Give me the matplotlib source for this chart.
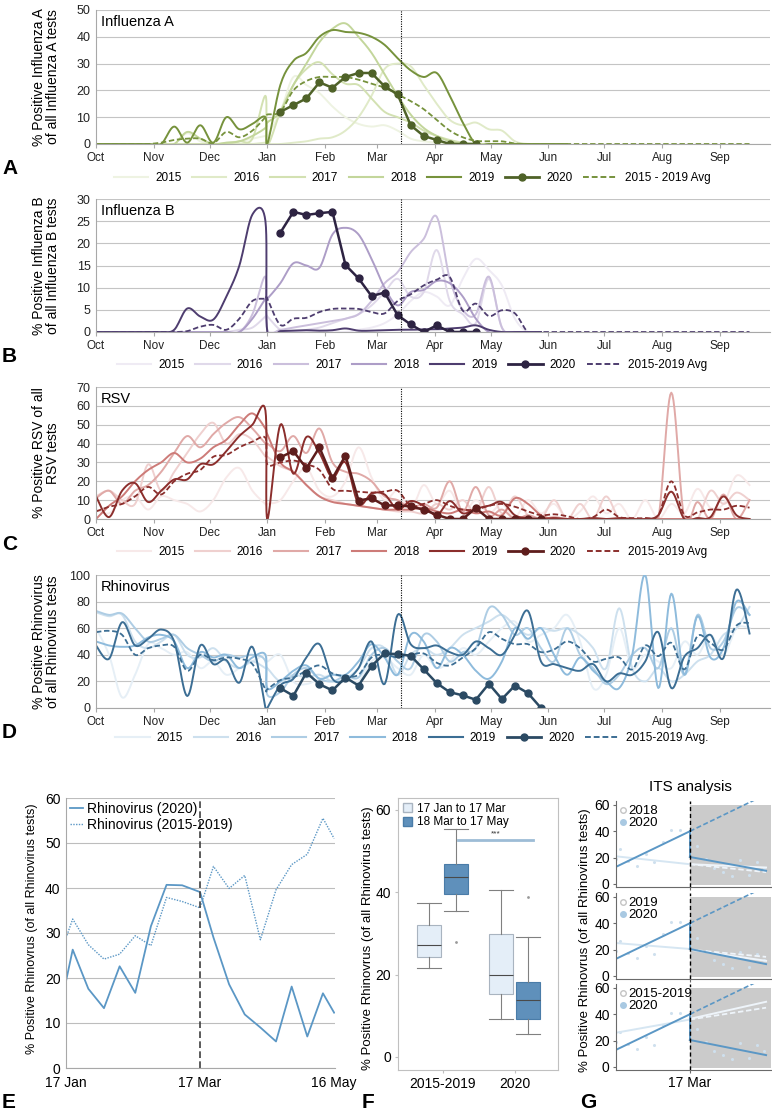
import numpy as np
import matplotlib
matplotlib.use('Agg')
import matplotlib.pyplot as plt
from matplotlib.lines import Line2D
from matplotlib.patches import Patch, Rectangle

plt.rcParams['font.family'] = ['Liberation Sans', 'DejaVu Sans']
nan = np.nan

# weekly sample days counted from 1 Oct (Dec 31 and Jan 1 both present: year break)
days = list(range(0, 92, 7)) + list(range(92, 352, 7))
month_days = [0, 31, 61, 92, 123, 151, 182, 212, 243, 273, 304, 335]
month_names = ['Oct', 'Nov', 'Dec', 'Jan', 'Feb', 'Mar', 'Apr', 'May', 'Jun', 'Jul', 'Aug', 'Sep']
years = ['2015', '2016', '2017', '2018', '2019']

# ---- Influenza A
fa_2015 = [0,0,0,0,0,0,0, 4,1,0,0.5,1,2,3, 3,12,25,22,19,14,10, 7.5,6.5,7,5,2,1,0.5, 0,0,0,0,0,0,0,0,0,0] + [nan]*14
fa_2016 = [0]*13 + [0.5,0,0,0.5,1,2,2.5,5,10,18,28,30,29,22,15,9,7,8,5.5,5,1, 0,0,0,0] + [nan]*14
fa_2017 = [0]*11 + [1,2,18,0,12,22,28,30.5,26,22.5,22,17,12,10,8,5,3,1.5,0.5] + [0]*8 + [nan]*14
fa_2018 = [0]*7 + [4.5,2,0,0.5,1,3,6,8,12,22,30,38,43,45,40,34,26,18,11,6,3,1] + [0]*9 + [nan]*14
fa_2019 = [0]*6 + [6.5,0.5,7,0.5,10,5.5,7.5,10,0,22,31,34,40,42.5,41.8,41.5,40,37,32,27.5,25,26.5,18,8,0] + [0]*7 + [nan]*14
fa_avg = [0]*5 + [0.5,1.5,2,2,0.3,4.5,2.5,5,10,11,12,20,23.5,25,25,25,24,22.5,21,18.5,16,13,9,5,2.5,1.2,1,1,0.2] + [0]*18
fa_2020 = [12,14.5,17,23,21,25,26.5,26.5,21.5,18.5,7,3,1.5,0,0,0]

# ---- Influenza B
fb_2015 = [0]*21 + [0.5,1,2,4,7,9,8,6,12,16.5,14,10.5,3,0,0] + [nan]*16
fb_2016 = [0]*11 + [0.5,1,3.5,3.5,0.5,0,0.5,1,2,3,4,6,9,12,8,9,18.5,7,4,2,12,1,0,0,0] + [nan]*16
fb_2017 = [0]*12 + [4,12.5,0.5,0.5,1,1.5,2,2.5,3,4,7,11,13.5,18,21,26,12,5,4,12.5,1,0,0,0] + [nan]*16
fb_2018 = [0]*12 + [3,7.5,7.5,11,15.5,15,14.5,22,23.5,22,16.5,10,6,9,9.5,11.5,11,8,3,0,0,0,0,0] + [nan]*16
fb_2019 = [0]*6 + [0.5,5.3,3.5,2.8,8,15,26.5,25,0,0.2,0.3,0.4,0.3,0.4,0.8,0.3,0.3,0.4,0.5,0.5,0.6,0.6,0.8,1,1.5,0.5,0,0,0,0] + [nan]*16
fb_avg = [0]*7 + [0.2,1.2,1.6,0.5,3,7,7.5,7.5,1.6,3,3.2,4.5,5.2,5.3,5.2,4.5,4.2,7,8.5,10.5,11.8,12.4,4.8,6.4,3.6,4.9,4.2,0] + [0]*17
fb_2020 = [22.4,27.1,26.4,26.8,27.1,15.1,12.1,8.1,8.9,3.8,1.7,0,1.5,0,0,0]

# ---- RSV
rsv_2015 = [5,3,10,12,5,12,10,8,4,10,22,27,15,8, 8,10,20,27,15,12,20,38,22,10, 15,5,18,8,15,3,10,3,8,1,
            10,3,8,0,4,12,3,8,0,10, 0,8,3,16,6,8,23,18]
rsv_2016 = [12,15,10,8,29,15,25,35,45,51,40,45,42,33, 33,28,25,18,12,10,8,7,6,5, 4,4,3,8,5,10,4,17,3,12,
            2,0,10,0,8,0,12,0,0,0, 0,0,0,0,15,8,14,10]
rsv_2017 = [11,15,8,15,18,25,35,44,38,45,51,54,48,40, 40,36,44,35,48,30,25,24,20,12, 10,6,8,6,20,4,17,2,5,0,
            2,0,1,0,0,0,0,0,0,0, 0,67,0,9,0,13,0,10]
rsv_2018 = [0,7,12,20,26,30,35,30,32,38,42,50,56,48, 45,30,25,18,12,9,8,7,6,5, 5,5,6,4,3,5,3,4,2,11,
            8,2,0,0,0,0,0,0,0,0, 0,0,0,0,0,0,0,0]
rsv_2019 = [12,1,15,19,9,15,21,21,29,29,36,44,50,57.5, 0,50,24,43.5,35,22,30,8,13.5,13, 5,9.5,7,2,9.5,3,5.5,7,9,2,
            0.5,0,0.5,0,0,0.5,0,0.5,0,0, 2,14.5,0,0.5,1,12,2,0]
rsv_avg = [4,6.5,8,12,17,13,20,24,26,33,34,38,41,43, 29,30,31,29,26,16,15,14.5,14,14.5, 15,7,8,10,7,5,5,7,8,6.5,
           4,2,2.5,1.5,0,1,5,1,0.5,0.5, 2,20,2,3.5,5,5,7,6]
rsv_2020 = [32.7,36,26.9,38,21.6,33.6,9.8,11,7.2,7.2,6.7,4.9,2.3,0,0,5.8,0,0,0,0,0]

# ---- Rhinovirus
rv_2015 = [60,40,8,25,48,45,40,42,30,35,25,30,35,40, 35,40,20,18,22,25,22,20,35,38, 30,25,40,30,35,45,40,50,60,65,
           50,55,60,70,50,15,25,60,30,40, 35,30,50,40,55,40,60,60]
rv_2016 = [72,69,70,50,45,50,55,40,38,45,35,30,35,30, 30,20,25,23,25,20,22,30,45,45, 25,40,45,40,45,55,60,65,70,62,
           55,60,58,60,55,45,30,75,30,20, 30,20,25,35,40,55,60,76]
rv_2017 = [73,70,71,60,50,52,55,45,40,35,40,38,40,35, 10,12,25,30,22,20,24,23,40,45, 35,30,55,50,35,42,45,75,70,55,
           60,45,35,60,40,30,18,25,40,45, 30,60,25,70,45,50,75,70]
rv_2018 = [50,47,46,47,53,55,50,30,42,38,40,30,38,40, 15,20,28,32,22,25,25,35,48,38, 25,55,50,30,45,40,28,22,35,60,
           52,60,40,25,38,28,20,15,40,100, 15,86,25,69,38,45,80,70]
rv_2019 = [47,37,64.5,47,52,59,50,9,47,33,36,19,46,0, 0,17,22,38,48,22,21,30,50,18, 70,48,45,47,42,40,50,45,40,55,
           73,35,33,30,28,33,20,26,25,35, 57,15,38.6,45,55,37.6,89,56]
rv_avg = [57,58,55,40,45,47,46,28,40,36,38,37,33,14, 14,21,23,28,32,26,24,25,38,40, 38,40,41,34,32,38,45,57,52,48,
          48,42,44,50,45,35,37,38,29,47, 39,49,29,54,49,44,62,64]
rv_2020 = [14.9,9.2,26.6,17.9,13.2,22.9,16.9,31.6,41,40.5,39.3,29.1,18.7,11.9,9.5,6.2,18.2,6.7,16.9,11.2,0]

# ---- panel E (days from 17 Jan)
e_days = [0,3,10,17,24,31,38,45,52,60,66,73,80,87,94,101,108,115,120]
e_2020 = [19.3,26.3,17.6,13.3,22.6,16.7,31.5,40.7,40.6,39.1,29,18.6,11.9,9.0,5.9,18.1,7.0,16.6,12.3]
e_1519 = [28.9,33.1,27.4,24.2,25.3,29.4,27.2,37.9,37.0,35.6,44.8,39.9,42.8,28.5,39.6,45.2,47.5,55.5,51]

# ---- panel F box statistics
f_groups = ['2015-2019', '2020']
f_med = [27.1, 43.6, 19.9, 13.9]
f_q1 = [24.2, 39.5, 15.2, 9.2]
f_q3 = [32.0, 46.8, 29.8, 18.2]
f_lo = [21.7, 35.4, 9.1, 5.5]
f_hi = [37.5, 55.3, 40.5, 29.0]
f_fliers = [[], [28], [], [38.9]]

# ---- panel G (ITS fits: start / end values)
its_labels = ['2018', '2019', '2015-2019']
its_cmp_pre = [(21, 15), (25, 20.5), (26, 36)]
its_cmp_post = [(15, 12.5), (20, 11.5), (36.5, 49.5)]
its_cmp_cf = [(15, 9), (20, 14.5), (36, 45)]
its_pre = (13, 40)
its_post = [(20.5, 10), (20.5, 9), (20.5, 9)]
its_cf = (40, 68)
its_x = (0, 60, 122)

W, H = 772, 1119
fig = plt.figure(figsize=(W / 100, H / 100), dpi=100)


def rect(l, t, r, b):
    return [l / W, 1 - b / H, (r - l) / W, (b - t) / H]


def smooth(x, y, n=12):
    # Excel-like smoothed line (Catmull-Rom through the points)
    x = np.asarray(x, float)
    y = np.asarray(y, float)
    ok = ~np.isnan(y)
    x, y = x[ok], y[ok]
    px = np.concatenate([[x[0]], x, [x[-1]]])
    py = np.concatenate([[y[0]], y, [y[-1]]])
    t = np.linspace(0, 1, n, endpoint=False)[:, None]

    def cr(p):
        p0, p1, p2, p3 = p[:-3], p[1:-2], p[2:-1], p[3:]
        return 0.5 * (2 * p1 + (p2 - p0) * t + (2 * p0 - 5 * p1 + 4 * p2 - p3) * t ** 2
                      + (3 * p1 - p0 - 3 * p2 + p3) * t ** 3)

    return np.append(cr(px).T.ravel(), x[-1]), np.append(cr(py).T.ravel(), y[-1])


def virus_panel(top, bottom, ymax, ystep, series, colors, avg, avg_lab, v2020, c2020,
                title, ylabel, leg_y, letter, letter_y):
    ax = fig.add_axes(rect(96, top, 770, bottom))
    ax.set_xlim(0, 362)
    ax.set_ylim(0, ymax)
    ax.set_yticks(np.arange(0, ymax + 1, ystep))
    ax.set_xticks(month_days)
    ax.set_xticklabels(month_names)
    ax.grid(axis='y', color='#c4c4c4', lw=0.8)
    ax.set_axisbelow(True)
    for s in ['top', 'right']:
        ax.spines[s].set_visible(False)
    for s in ['left', 'bottom']:
        ax.spines[s].set_color('#a8a8a8')
        ax.spines[s].set_linewidth(0.8)
    ax.tick_params(axis='y', length=0, labelsize=9, pad=4, labelcolor='#222222')
    ax.tick_params(axis='x', length=3, color='#a8a8a8', labelsize=8.5, pad=3, labelcolor='#222222')
    handles = []
    for s, c in zip(series, colors[:5]):
        ax.plot(*smooth(days, s), color=c, lw=1.4)
        handles.append(Line2D([], [], color=c, lw=1.5))
    ax.plot(*smooth(days, avg), color=colors[4], lw=1.3, ls=(0, (3, 1.5)))
    ax.plot(days[15:15 + len(v2020)], v2020, '-o', color=c2020, lw=1.8, ms=5)
    handles.append(Line2D([], [], color=c2020, lw=2, marker='o', ms=5))
    handles.append(Line2D([], [], color=colors[4], lw=1.4, ls=(0, (3, 1.5))))
    ax.axvline(164, color='k', ls=(0, (1, 1.2)), lw=0.8)
    ax.text(0.007, 0.91, title, transform=ax.transAxes, fontsize=10.5, va='center')
    fig.text(46 / W, 1 - (top + bottom) / 2 / H, ylabel, rotation=90, fontsize=10,
             ha='center', va='center', linespacing=1.0)
    fig.legend(handles, years + ['2020', avg_lab], loc='center', bbox_to_anchor=(412 / W, 1 - leg_y / H),
               ncol=7, frameon=False, fontsize=8.5, handlelength=2.9, handletextpad=0.6,
               columnspacing=0.9, borderpad=0)
    fig.text(2 / W, 1 - letter_y / H, letter, fontsize=15, fontweight='bold', va='center')
    return ax


virus_panel(10, 144, 50, 10, [fa_2015, fa_2016, fa_2017, fa_2018, fa_2019],
            ['#eef3e2', '#e0eac8', '#d3e1b2', '#c3d69b', '#76923c'], fa_avg, '2015 - 2019 Avg',
            fa_2020, '#4f6228', 'Influenza A', '% Positive Influenza A\nof all Influenza A tests', 178, 'A', 168)
virus_panel(199, 332, 30, 5, [fb_2015, fb_2016, fb_2017, fb_2018, fb_2019],
            ['#efebf4', '#e0d9ea', '#cbbfdc', '#ad9dc7', '#4e3d6f'], fb_avg, '2015-2019 Avg',
            fb_2020, '#2d2342', 'Influenza B', '% Positive Influenza B\nof all Influenza B tests', 365, 'B', 357)
virus_panel(387, 519, 70, 10, [rsv_2015, rsv_2016, rsv_2017, rsv_2018, rsv_2019],
            ['#f7e9e9', '#efd0cf', '#e0a9a7', '#cd7b78', '#8b2e2c'], rsv_avg, '2015-2019 Avg',
            rsv_2020, '#5e1d1c', 'RSV', '% Positive RSV of all\nRSV tests', 552, 'C', 545)
virus_panel(575, 708, 100, 20, [rv_2015, rv_2016, rv_2017, rv_2018, rv_2019],
            ['#e6eff6', '#cde0ee', '#aecde4', '#8ebbdc', '#3c6e94'], rv_avg, '2015-2019 Avg.',
            rv_2020, '#2b4a63', 'Rhinovirus', '% Positive Rhinovirus\nof all Rhinovirus tests', 738, 'D', 732)

blue = '#5b97c5'
ylab_rv = '% Positive Rhinovrus (of all Rhinovirus tests)'

# ---- E
ax = fig.add_axes(rect(66, 798, 335, 1068))
ax.set_xlim(0, 120.4)
ax.set_ylim(0, 60)
ax.set_yticks(range(0, 61, 10))
ax.set_xticks([0, 60, 120])
ax.set_xticklabels(['17 Jan', '17 Mar', '16 May'])
ax.grid(axis='y', color='#bdbdbd', lw=0.8)
ax.set_axisbelow(True)
for s in ['top', 'right']:
    ax.spines[s].set_visible(False)
for s in ['left', 'bottom']:
    ax.spines[s].set_color('#a8a8a8')
ax.tick_params(axis='y', length=0, labelsize=10, pad=4)
ax.tick_params(axis='x', length=0, labelsize=10, pad=6)
ax.plot(e_days, e_2020, color=blue, lw=1.3, label='Rhinovirus (2020)')
ax.plot(e_days, e_1519, color=blue, lw=1.0, ls=(0, (1, 1)), label='Rhinovirus (2015-2019)')
ax.axvline(60, color='#404040', ls=(0, (4, 2)), lw=1.2)
ax.legend(loc='upper left', frameon=False, fontsize=10, handlelength=0.9, handletextpad=0.3,
          labelspacing=0.1, borderaxespad=0.1, borderpad=0.2)
fig.text(32 / W, 1 - 929 / H, ylab_rv, rotation=90, fontsize=9, ha='center', va='center')
fig.text(2 / W, 1 - 1103 / H, 'E', fontsize=15, fontweight='bold', va='center')

# ---- F
ax = fig.add_axes(rect(398, 798, 558, 1070))
stats = []
for i in range(4):
    stats.append(dict(med=f_med[i], q1=f_q1[i], q3=f_q3[i], whislo=f_lo[i], whishi=f_hi[i],
                      fliers=f_fliers[i]))
bp = ax.bxp(stats, positions=[0.81, 1.19, 1.81, 2.19], widths=0.34, capwidths=0.34, patch_artist=True,
            flierprops=dict(marker='.', ms=2, color='#888888', mec='#999999'),
            whiskerprops=dict(color='#808080', lw=0.8), capprops=dict(color='#808080', lw=0.8),
            medianprops=dict(color='#4a4a4a', lw=0.8))
for i, b in enumerate(bp['boxes']):
    if i % 2 == 0:
        b.set(facecolor='#e4eef8', edgecolor='#a9b4c0', lw=0.8)
    else:
        b.set(facecolor='#5f90bb', edgecolor='#4a7ca8', lw=0.8)
ax.set_xlim(0.382, 2.604)
ax.set_ylim(-3.2, 62.9)
ax.set_xticks([1, 2])
ax.set_xticklabels(f_groups)
ax.set_yticks([0, 20, 40, 60])
for s in ax.spines.values():
    s.set_color('#c0c0c0')
ax.tick_params(length=2, color='#c0c0c0', labelsize=10, pad=3)
ax.plot([1.215, 2.257], [52.6, 52.6], color='#9dbcd6', lw=2)
ax.text(1.74, 53.3, '***', fontsize=6, ha='center', va='bottom', color='#333333')
ax.legend([Patch(facecolor='#e4eef8', edgecolor='#a9b4c0'), Patch(facecolor='#5f90bb', edgecolor='#4a7ca8')],
          ['17 Jan to 17 Mar', '18 Mar to 17 May'], loc='upper left', frameon=False, fontsize=8.5,
          handlelength=0.8, handleheight=0.8, handletextpad=0.4, labelspacing=0.15,
          borderaxespad=0.2, borderpad=0.2)
fig.text(368 / W, 1 - 938 / H, ylab_rv, rotation=90, fontsize=9.5, ha='center', va='center')
fig.text(362 / W, 1 - 1103 / H, 'F', fontsize=15, fontweight='bold', va='center')

# ---- G
g_tops = [801, 893, 984]
for j in range(3):
    t = g_tops[j]
    ax = fig.add_axes(rect(616, t, 771, t + 85.6))
    ax.set_xlim(0, 126)
    ax.set_ylim(-2, 63)
    ax.add_patch(Rectangle((60, -1), 66, 61, color='#cbcbcb', zorder=0, lw=0))
    ax.plot(e_days, e_2020, 'o', ms=1.2, color='#cfe0ee', zorder=1)
    x0, xm, x1 = its_x
    ax.plot([x0, xm], its_cmp_pre[j], color='#d6e6f2', lw=1.4)
    ax.plot([xm, x1], its_cmp_post[j], color='#eef4fa', lw=1.4)
    ax.plot([xm, x1], its_cmp_cf[j], color='#eef4fa', lw=1.3, ls=(0, (3, 1.5)))
    ax.plot([x0, xm], its_pre, color=blue, lw=1.4)
    ax.plot([xm, xm], [its_pre[1], its_post[j][0]], color=blue, lw=1.4)
    ax.plot([xm, x1], its_post[j], color=blue, lw=1.4)
    ax.plot([xm, x1], its_cf, color=blue, lw=1.2, ls=(0, (3, 1.5)))
    ax.axvline(60, color='k', ls=(0, (3, 2)), lw=1)
    for s in ['top', 'right']:
        ax.spines[s].set_visible(False)
    for s in ['left', 'bottom']:
        ax.spines[s].set_color('#6a6a6a')
        ax.spines[s].set_linewidth(0.8)
    ax.set_yticks([0, 20, 40, 60])
    ax.set_xticks([60])
    ax.set_xticklabels(['17 Mar'] if j == 2 else [''])
    ax.tick_params(length=2.5, color='#6a6a6a', labelsize=10, pad=2)
    ax.legend([Line2D([], [], marker='o', ls='', mfc='none', mec='#c4c4c4', ms=4),
               Line2D([], [], marker='o', ls='', mfc='#a9c9e2', mec='#a9c9e2', ms=4)],
              [its_labels[j], '2020'], loc='upper left', frameon=False, fontsize=9.5,
              handlelength=0.5, handletextpad=0.15, labelspacing=0.0, borderaxespad=0.1, borderpad=0.2)
fig.text(690 / W, 1 - 787 / H, 'ITS analysis', fontsize=11, ha='center', va='center')
fig.text(585 / W, 1 - 940 / H, ylab_rv, rotation=90, fontsize=9.5, ha='center', va='center')
fig.text(580 / W, 1 - 1103 / H, 'G', fontsize=15, fontweight='bold', va='center')

fig.savefig('out.png', dpi=100)
